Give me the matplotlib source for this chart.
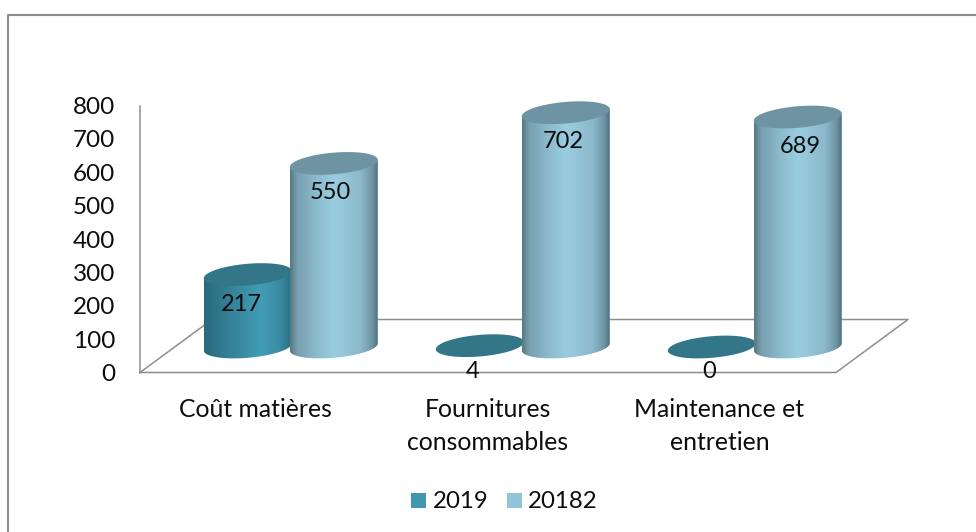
import numpy as np
import matplotlib
matplotlib.use("Agg")
import matplotlib.pyplot as plt
from matplotlib.colors import LinearSegmentedColormap
from matplotlib.patches import PathPatch, Rectangle
from matplotlib.path import Path

plt.rcParams['font.family'] = ['Lato', 'DejaVu Sans']

categories = ["Coût matières", "Fournitures\nconsommables", "Maintenance et\nentretien"]
series_names = ["2019", "20182"]
values_2019 = [217, 4, 0]
values_2018 = [550, 702, 689]
y_ticks = [0, 100, 200, 300, 400, 500, 600, 700, 800]

W, H = 976, 532
fig = plt.figure(figsize=(W / 100, H / 100), dpi=100)
fig.patch.set_facecolor("white")

ax = fig.add_axes([140 / W, 1 - 372.5 / H, 696 / W, 267 / H])
ax.set_xlim(0, 3)
ax.set_ylim(0, 800)
ax.patch.set_alpha(0)
for s in ax.spines.values():
    s.set_visible(False)
px = 3 / 696
py = 800 / 267

GREY = "#8e8e8e"
TXT = "#0d0d0d"
depth_x, depth_y = 72 * px, 53 * py
ax.plot([0, 0], [0, 800], color=GREY, lw=1.1, clip_on=False, zorder=1)
ax.plot([0, 3, 3 + depth_x, depth_x, 0],
        [0, 0, depth_y, depth_y, 0], color=GREY, lw=1.1, clip_on=False, zorder=1)

ax.set_xticks([])
ax.set_yticks(y_ticks)
ax.tick_params(axis="y", length=0, pad=18, labelsize=17.5)
ax.set_yticklabels([str(v) for v in y_ticks], color=TXT)
for lab in ax.get_yticklabels():
    lab.set_verticalalignment("center_baseline")

dark = LinearSegmentedColormap.from_list("d", [(0, "#2a6a7c"), (0.3, "#358198"), (0.65, "#429db6"), (0.85, "#3b8ca4"), (1, "#2c6f83")])
light = LinearSegmentedColormap.from_list("l", [(0, "#55797f"), (0.08, "#78a0b0"), (0.3, "#8dbacd"), (0.5, "#9acde0"), (0.8, "#8cb9cb"), (0.93, "#6f97a7"), (1, "#4f7480")])
top_dark, top_light = "#327687", "#6e94a3"

base = 25.5 * py
half_w = 43 * px
semi_a, semi_b, shear = 44, 10.8, 3.6


def ellipse_path(xc, yc):
    t = np.linspace(0, 2 * np.pi, 240)
    ex = semi_a * np.cos(t)
    ey = semi_b * np.sin(t)
    # screen pixels: right end is higher than the left end
    ry = ey + shear * ex / semi_a
    return xc + ex * px, yc + ry * py


def cylinder(xc, value, cmap, top_color, z):
    y0 = base
    y1 = base + value
    bx, by = ellipse_path(xc, y0)
    tx, ty = ellipse_path(xc, y1)
    if value > 20:
        il, ir = np.argmin(bx), np.argmax(bx)
        if il < ir:
            idx = np.arange(il, ir + 1)
        else:
            idx = np.r_[il:len(bx), 0:ir + 1]
        xs, ys = bx[idx], by[idx]
        til, tir = np.argmin(tx), np.argmax(tx)
        verts = list(zip(xs, ys)) + [(tx[tir], ty[tir]), (tx[til], ty[til])]
        poly = Path(verts + [verts[0]], closed=True)
        grad = np.linspace(0, 1, 256).reshape(1, -1)
        im = ax.imshow(grad, cmap=cmap, aspect="auto",
                       extent=[bx.min(), bx.max(), y0 - 20 * py, y1 + 10 * py],
                       zorder=z)
        patch = PathPatch(poly, transform=ax.transData, fc="none", ec="none")
        ax.add_patch(patch)
        patch.set_clip_on(False)
        im.set_clip_path(patch)
        im.set_clip_box(fig.bbox)
    ax.fill(tx, ty, color=top_color, zorder=z + 0.1, clip_on=False, lw=0)


centers = np.arange(3) + 0.65
for i in range(3):
    cylinder(centers[i] - half_w, values_2019[i], dark, top_dark, 3)
    cylinder(centers[i] + half_w, values_2018[i], light, top_light, 4)

ax.set_xlim(0, 3)
ax.set_ylim(0, 800)

dx_2019 = [-6, -7, -3]
dx_2018 = [-3, -3, 3]
LAB = 17
for i in range(3):
    v = values_2019[i]
    yy = base + v - 30 * py if v > 20 else 1 * py
    ax.text(centers[i] - half_w + dx_2019[i] * px, yy, str(v), ha="center", va="center",
            fontsize=LAB, color=TXT, zorder=6)
    v = values_2018[i]
    ax.text(centers[i] + half_w + dx_2018[i] * px, base + v - 29 * py, str(v), ha="center", va="center",
            fontsize=LAB, color=TXT, zorder=6)

label_x = [255, 487.5, 719.5]
for xp, lab in zip(label_x, categories):
    ax.text((xp - 140) * px, -25.5 * py, lab, ha="center", va="top", fontsize=17.8, color=TXT,
            linespacing=1.5, clip_on=False)

fig.patches.append(Rectangle((411 / W, 1 - 508 / H), 15 / W, 15 / H, transform=fig.transFigure, fc="#3f97b0", ec="none"))
fig.patches.append(Rectangle((507 / W, 1 - 508 / H), 15 / W, 15 / H, transform=fig.transFigure, fc="#93c3d6", ec="none"))
fig.text(433 / W, 1 - 501 / H, series_names[0], ha="left", va="center", fontsize=17.3, color=TXT)
fig.text(528 / W, 1 - 501 / H, series_names[1], ha="left", va="center", fontsize=17.3, color=TXT)

fig.add_artist(plt.Line2D([8.3 / W, 8.3 / W, 1], [0, 1 - 15 / H, 1 - 15 / H], color="#8c8c8c", lw=1.5))

fig.savefig("out.png", dpi=100)
